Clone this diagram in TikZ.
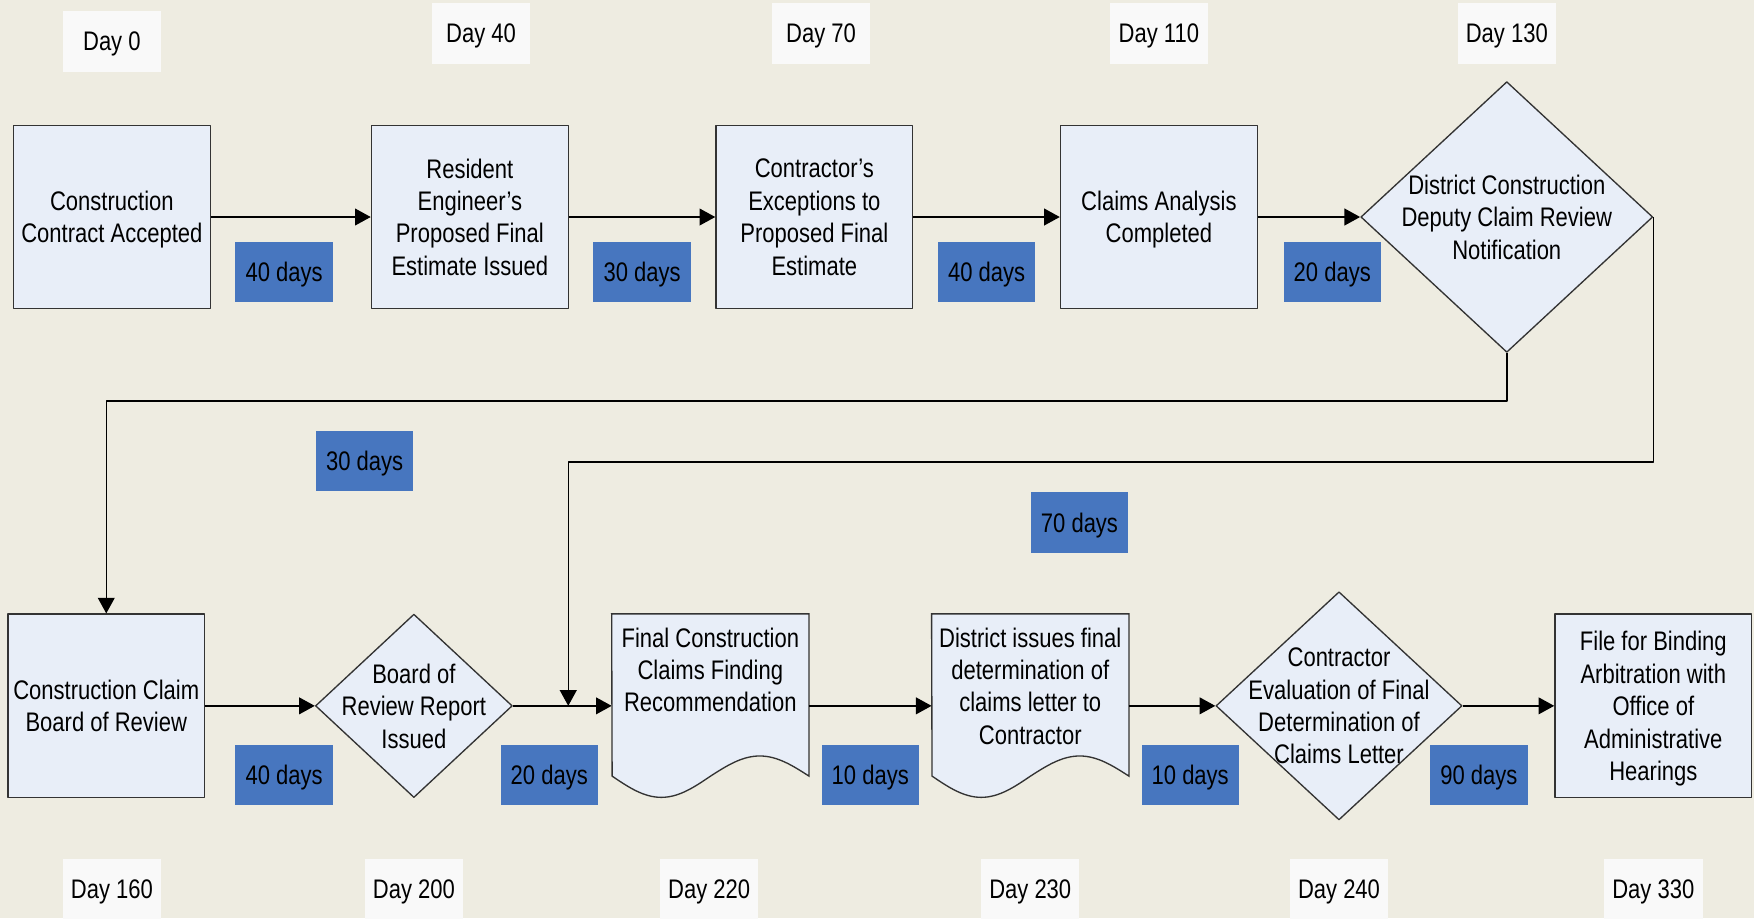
\documentclass[tikz,border=0pt]{standalone}
\usepackage{fontspec}
\setmainfont[FakeStretch=0.82]{Liberation Sans}
\usetikzlibrary{shapes.geometric,arrows.meta,backgrounds}
\definecolor{paper}{RGB}{238,236,225}
\definecolor{boxblue}{RGB}{232,238,248}
\definecolor{daysblue}{RGB}{71,118,191}
\definecolor{dayfill}{RGB}{249,249,249}
\begin{document}
\begin{tikzpicture}[x=1pt,y=-1pt,line join=round,
	font=\fontsize{24}{29}\selectfont,
	every node/.style={text depth=0pt},
	task/.style={draw=black!80,line width=1.2pt,fill=boxblue,minimum width=176,minimum height=164,align=center,inner sep=2pt},
	decision/.style={diamond,draw=black!80,line width=1.2pt,fill=boxblue,inner sep=0pt},
	diamondtext/.style={align=center,inner sep=0pt},
	docpage/.style={minimum width=176,minimum height=164,inner sep=0pt},
	doctext/.style={anchor=north,align=center,inner sep=0pt,yshift=-12},
	daymark/.style={fill=dayfill,minimum width=88,minimum height=54,inner sep=0pt},
	duration/.style={fill=daysblue,minimum width=87,minimum height=54,inner sep=0pt},
	flow/.style={line width=1.3pt,-{Triangle[length=14pt,width=15pt]}}]
		\useasboundingbox (0,0) rectangle (1568,821);
		\begin{pgfonlayer}{background}
			\fill[paper] (0,0) rectangle (1568,821);
		\end{pgfonlayer}
		% days along the top
		\node[daymark] (day0) at (100,37) {Day 0};
		\node[daymark] (day40) at (430,30) {Day 40};
		\node[daymark] (day70) at (734,30) {Day 70};
		\node[daymark] (day110) at (1036,30) {Day 110};
		\node[daymark] (day130) at (1347,30) {Day 130};
		% first row
		\node[task] (accepted) at (100,194) {Construction\\Contract Accepted};
		\node[task] (estimate) at (420,194) {Resident\\Engineer’s\\Proposed Final\\Estimate Issued};
		\node[task] (exceptions) at (728,194) {Contractor’s\\Exceptions to\\Proposed Final\\Estimate};
		\node[task] (analysis) at (1036,194) {Claims Analysis\\Completed};
		\node[decision,minimum width=261,minimum height=242,
			label={[diamondtext]center:District Construction\\Deputy Claim Review\\Notification}] (notify) at (1347,194) {};
		% second row
		\node[task] (board) at (95,631) {Construction Claim\\Board of Review};
		\node[decision,minimum width=176,minimum height=164,
			label={[diamondtext]center:Board of\\Review Report\\Issued}] (report) at (370,631) {};
		\node[docpage,label={[doctext]north:Final Construction\\Claims Finding\\Recommendation}] (recommend) at (635,631) {};
		\node[docpage,label={[doctext]north:District issues final\\determination of\\claims letter to\\Contractor}] (letter) at (921,631) {};
		\node[decision,minimum width=220,minimum height=204,
			label={[diamondtext]center:Contractor\\Evaluation of Final\\Determination of\\Claims Letter}] (evaluation) at (1197,631) {};
		\node[task] (arbitration) at (1478,631) {File for Binding\\Arbitration with\\Office of\\Administrative\\Hearings};
		\coordinate (join) at (508,631);
		% document outlines
		\begin{pgfonlayer}{background}
			\foreach \d in {recommend,letter}
				\draw[draw=black!80,line width=1.2pt,fill=boxblue] (\d.north west) -- (\d.north east) -- ++(0,145)
					sin ++(-44,-18) cos ++(-44,18) sin ++(-44,19) cos ++(-44,-19) -- cycle;
		\end{pgfonlayer}
		% connectors
		\draw[flow] (accepted) -- (estimate);
		\draw[flow] (estimate) -- (exceptions);
		\draw[flow] (exceptions) -- (analysis);
		\draw[flow] (analysis) -- (notify);
		\draw[flow] (notify.south) -- ++(0,43) -| (board.north);
		\draw[flow] (notify.east) -- ++(0,219) -| (join);
		\draw[flow] (board) -- (report);
		\draw[flow] (report) -- (recommend);
		\draw[flow] (recommend) -- (letter);
		\draw[flow] (letter) -- (evaluation);
		\draw[flow] (evaluation) -- (arbitration);
		% durations
		\node[duration] (gap1) at (254,243) {40 days};
		\node[duration] (gap2) at (574,243) {30 days};
		\node[duration] (gap3) at (882,243) {40 days};
		\node[duration] (gap4) at (1191,243) {20 days};
		\node[duration] (gap5) at (326,412) {30 days};
		\node[duration] (gap6) at (965,467) {70 days};
		\node[duration] (gap7) at (254,693) {40 days};
		\node[duration] (gap8) at (491,693) {20 days};
		\node[duration] (gap9) at (778,693) {10 days};
		\node[duration] (gap10) at (1064,693) {10 days};
		\node[duration] (gap11) at (1322,693) {90 days};
		% days along the bottom
		\node[daymark] (day160) at (100,795) {Day 160};
		\node[daymark] (day200) at (370,795) {Day 200};
		\node[daymark] (day220) at (634,795) {Day 220};
		\node[daymark] (day230) at (921,795) {Day 230};
		\node[daymark] (day240) at (1197,795) {Day 240};
		\node[daymark] (day330) at (1478,795) {Day 330};
\end{tikzpicture}
\end{document}
